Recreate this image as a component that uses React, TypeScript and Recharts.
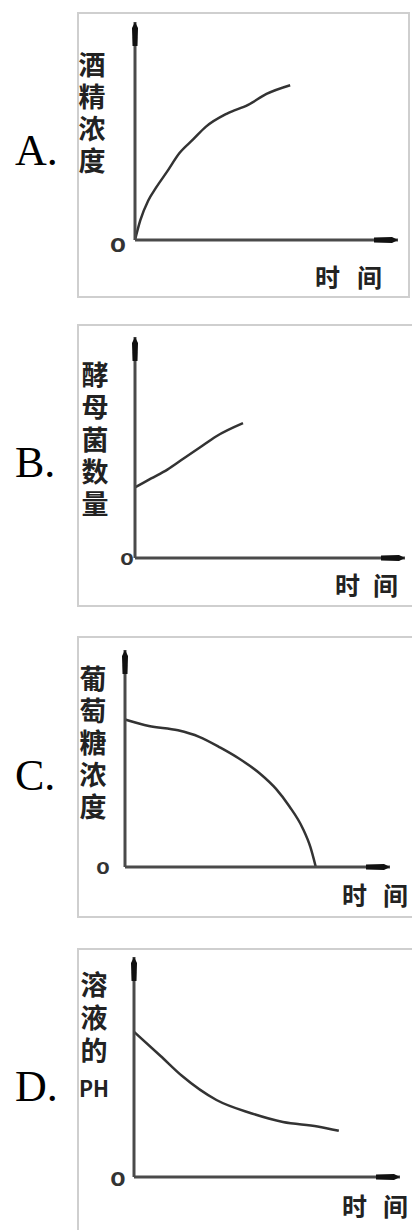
import { LineChart, Line, XAxis, YAxis } from 'recharts'

// A: 酒精浓度 vs 时间
const timeA = [0, 2, 5, 8, 12, 17, 22, 27, 35, 43, 50, 59]
const alcoholA = [0, 9, 18, 24, 31, 40, 46, 52, 58, 62, 67, 71]

// B: 酵母菌数量 vs 时间
const timeB = [0, 6, 12, 18, 24, 30, 40]
const yeastB = [32, 36, 40, 45, 50, 55, 61]

// C: 葡萄糖浓度 vs 时间
const timeC = [0, 9, 20, 28, 36, 43, 51, 57, 62, 67, 70, 72]
const glucoseC = [68, 65, 63, 60, 55, 50, 43, 36, 28, 18, 9, 0]

// D: 溶液的PH vs 时间
const timeD = [0, 10, 18, 31, 44, 56, 69, 77]
const phD = [66, 55, 46, 35, 29, 25, 23, 21]

const letters = ['A.', 'B.', 'C.', 'D.']
// vertical y titles; optional second part is written horizontally underneath
const yTitles = ['酒精浓度', '酵母菌数量', '葡萄糖浓度', '溶液的']
const yTitleTails = ['', '', '', 'PH']
const xTitle = ['时', '间']
const originLabel = 'o'

const series = [
  { t: timeA, v: alcoholA },
  { t: timeB, v: yeastB },
  { t: timeC, v: glucoseC },
  { t: timeD, v: phD },
]

// layout of each boxed panel (page px); axes take 1px, so margins are 1 less
const panels = [
  { top: 12, w: 333, h: 286, letterY: 165, margin: { top: 10, left: 57, right: 12, bottom: 57 },
    titleX: 15, titleTop: 39, spacing: 5, xt: [238, 280], xtY: 275, zero: [41, 3], zeroSize: 26 },
  { top: 324, w: 345, h: 283, letterY: 477, margin: { top: 13, left: 57, right: 17, bottom: 48 },
    titleX: 18, titleTop: 37, spacing: 5.4, xt: [258, 296], xtY: 271, zero: [50, -1], zeroSize: 22 },
  { top: 636, w: 345, h: 282, letterY: 790, margin: { top: 14, left: 47, right: 32, bottom: 50 },
    titleX: 16, titleTop: 29, spacing: 5, xt: [265, 306], xtY: 269, zero: [26, -1], zeroSize: 22 },
  { top: 948, w: 345, h: 300, letterY: 1101, margin: { top: 9, left: 56, right: 22, bottom: 70 },
    titleX: 17, titleTop: 23, spacing: 6.3, xt: [265, 306], xtY: 268, zero: [41, 0], zeroSize: 25, tailY: 149 },
]

const cjk = "'Noto Sans CJK SC', sans-serif"

function Panel({ idx }: { idx: number }) {
  const p = panels[idx]
  const data = series[idx].t.map((t, i) => ({ x: t, y: series[idx].v[i] }))

  const yTitle = () => (
    <g>
      <text
        x={p.titleX}
        y={p.titleTop}
        fontFamily={cjk}
        fontWeight={700}
        fontSize={27}
        fill="#222"
        letterSpacing={p.spacing}
        style={{ writingMode: 'vertical-rl' } as any}
      >
        {yTitles[idx]}
      </text>
      {yTitleTails[idx] && (
        <text
          x={p.titleX}
          y={p.tailY}
          fontFamily={cjk}
          fontWeight={700}
          fontSize={22}
          fill="#222"
          textAnchor="middle"
          textLength={30}
          lengthAdjust="spacingAndGlyphs"
        >
          {yTitleTails[idx]}
        </text>
      )}
    </g>
  )

  const xLabel = () => (
    <text fontFamily={cjk} fontWeight={700} fontSize={25} fill="#222">
      {xTitle.map((c, i) => (
        <tspan key={i} x={p.xt[i]} y={p.xtY}>{c}</tspan>
      ))}
    </text>
  )

  const zeroTick = (props: any) => (
    <text
      x={p.zero[0]}
      y={props.y + p.zero[1]}
      textAnchor="middle"
      dominantBaseline="central"
      fontFamily="'Liberation Sans', sans-serif"
      fontWeight={700}
      fontSize={p.zeroSize}
      fill="#333"
    >
      {originLabel}
    </text>
  )

  return (
    <>
      <svg width={70} height={60} style={{ position: 'absolute', left: 0, top: p.letterY - 50 }}>
        <text x={15} y={50} fontFamily="'Liberation Serif', serif" fontSize={44} fill="#000">
          {letters[idx]}
        </text>
      </svg>
      <div
        style={{
          position: 'absolute',
          left: 77,
          top: p.top,
          width: p.w,
          height: p.h,
          border: '2px solid #cfcfcf',
          boxSizing: 'border-box',
        }}
      >
        <div style={{ position: 'absolute', left: -2, top: -2 }}>
          <LineChart width={p.w} height={p.h} data={data} margin={p.margin}>
            <XAxis
              type="number"
              dataKey="x"
              domain={[0, 100]}
              height={1}
              tick={false}
              tickLine={false}
              axisLine={{ stroke: '#4a4a4a', strokeWidth: 3, markerEnd: 'url(#axisArrow)' }}
              label={{ content: xLabel }}
            />
            <YAxis
              type="number"
              domain={[0, 100]}
              width={1}
              ticks={[0]}
              tick={zeroTick}
              tickLine={false}
              axisLine={{ stroke: '#4a4a4a', strokeWidth: 3, markerStart: 'url(#axisArrow)' }}
              label={{ content: yTitle }}
            />
            <Line
              dataKey="y"
              type="monotone"
              stroke="#333"
              strokeWidth={2.5}
              dot={false}
              isAnimationActive={false}
            />
          </LineChart>
        </div>
      </div>
    </>
  )
}

export default function App() {
  return (
    <div
      style={{
        position: 'absolute',
        left: 0,
        top: 0,
        width: 412,
        height: 1230,
        overflow: 'hidden',
        background: '#fff',
      }}
    >
      <svg width={0} height={0} style={{ position: 'absolute' }}>
        <defs>
          <marker
            id="axisArrow"
            markerUnits="userSpaceOnUse"
            markerWidth={26}
            markerHeight={10}
            refX={24}
            refY={5}
            orient="auto-start-reverse"
          >
            <path d="M0,2.5 L18,2 L24,5 L18,8 L0,7.5 Z" fill="#111" />
          </marker>
        </defs>
      </svg>
      {panels.map((_, i) => (
        <Panel key={i} idx={i} />
      ))}
    </div>
  )
}
